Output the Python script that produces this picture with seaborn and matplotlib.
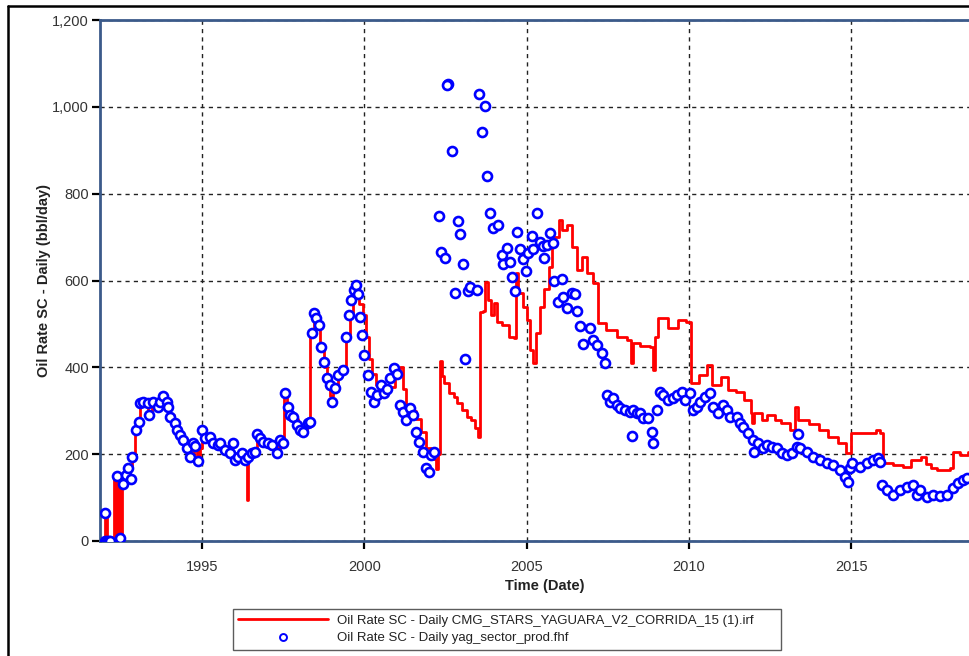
import matplotlib
matplotlib.use("Agg")
import matplotlib.pyplot as plt
from matplotlib.lines import Line2D
from matplotlib.ticker import FuncFormatter, FixedLocator
import seaborn as sns
import pandas as pd

# Simulated daily oil rate (CMG STARS run), step series: decimal year / bbl/day
sim_t = [1991.86, 1992.00, 1992.06, 1992.30, 1992.32, 1992.34, 1992.36, 1992.38, 1992.40,
         1992.42, 1992.44, 1992.46, 1992.48, 1992.50, 1992.52, 1992.55, 1992.65, 1992.75,
         1992.85, 1992.95, 1993.05, 1993.10, 1993.20, 1993.35, 1993.45, 1993.60, 1993.75,
         1993.90, 1994.00, 1994.15, 1994.25, 1994.35, 1994.45, 1994.55, 1994.65, 1994.75,
         1994.85, 1994.88, 1994.91, 1994.94, 1995.00, 1995.10, 1995.25, 1995.40, 1995.55,
         1995.70, 1995.85, 1996.00, 1996.15, 1996.30, 1996.38, 1996.42, 1996.55, 1996.70,
         1996.85, 1997.00, 1997.15, 1997.30, 1997.40, 1997.52, 1997.62, 1997.72, 1997.85,
         1997.95, 1998.10, 1998.25, 1998.33, 1998.45, 1998.55, 1998.65, 1998.75, 1998.85,
         1998.95, 1999.05, 1999.20, 1999.30, 1999.45, 1999.55, 1999.65, 1999.75, 1999.85,
         1999.95, 2000.05, 2000.15, 2000.25, 2000.35, 2000.50, 2000.65, 2000.80, 2000.95,
         2001.10, 2001.20, 2001.30, 2001.45, 2001.60, 2001.75, 2001.90, 2002.05, 2002.20,
         2002.28, 2002.32, 2002.38, 2002.45, 2002.60, 2002.75, 2002.85, 2003.00, 2003.15,
         2003.30, 2003.40, 2003.50, 2003.55, 2003.65, 2003.72, 2003.80, 2003.90, 2004.00,
         2004.10, 2004.25, 2004.45, 2004.62, 2004.68, 2004.75, 2004.90, 2005.00, 2005.10,
         2005.20, 2005.28, 2005.40, 2005.55, 2005.70, 2005.78, 2006.00, 2006.10, 2006.25,
         2006.40, 2006.55, 2006.70, 2006.85, 2007.05, 2007.20, 2007.45, 2007.80, 2008.10,
         2008.22, 2008.28, 2008.50, 2008.80, 2008.88, 2008.95, 2009.05, 2009.35, 2009.65,
         2009.90, 2010.05, 2010.30, 2010.55, 2010.70, 2011.00, 2011.20, 2011.45, 2011.70,
         2011.90, 2011.95, 2012.00, 2012.25, 2012.40, 2012.65, 2012.85, 2013.10, 2013.27,
         2013.35, 2013.70, 2014.00, 2014.30, 2014.60, 2014.85, 2015.00, 2015.30, 2015.75,
         2015.90, 2015.98, 2016.30, 2016.60, 2016.85, 2017.15, 2017.30, 2017.45, 2017.65,
         2018.05, 2018.15, 2018.35, 2018.60, 2019.50]
sim_v = [0, 60, 0, 140, 0, 140, 0, 140, 0,
         140, 0, 140, 0, 140, 0, 150, 160, 170,
         195, 250, 275, 315, 320, 300, 318, 312, 325,
         320, 290, 272, 258, 245, 232, 215, 200, 220,
         185, 215, 190, 215, 250, 238, 235, 225, 222,
         212, 205, 195, 197, 190, 95, 195, 205, 240,
         230, 225, 220, 210, 230, 340, 310, 292, 280,
         262, 255, 268, 480, 510, 495, 440, 400, 360,
         335, 345, 380, 390, 470, 525, 560, 590, 545,
         520, 470, 420, 385, 360, 340, 345, 355, 385,
         400, 350, 305, 300, 280, 250, 215, 190, 165,
         200, 415, 380, 364, 341, 332, 318, 302, 286,
         279, 260, 240, 527, 530, 597, 555, 520, 548,
         505, 497, 470, 468, 617, 571, 539, 510, 440,
         410, 480, 540, 580, 630, 700, 740, 717, 728,
         677, 624, 654, 617, 594, 502, 486, 470, 463,
         410, 456, 450, 447, 394, 470, 513, 491, 509,
         505, 364, 382, 405, 359, 378, 348, 343, 325,
         295, 272, 295, 279, 290, 279, 272, 256, 309,
         279, 270, 256, 240, 225, 203, 249, 249, 256,
         249, 180, 175, 171, 187, 194, 178, 168, 164,
         168, 205, 198, 205, 205]

# Historical field production (yag_sector_prod.fhf): decimal year / bbl/day
hist_t = [1992.00, 1992.01, 1992.06, 1992.12, 1992.18, 1992.38, 1992.47, 1992.57, 1992.66,
          1992.72, 1992.81, 1992.84, 1992.97, 1993.06, 1993.09, 1993.18, 1993.34, 1993.37,
          1993.49, 1993.64, 1993.71, 1993.80, 1993.92, 1993.95, 1994.01, 1994.17, 1994.23,
          1994.32, 1994.41, 1994.54, 1994.63, 1994.72, 1994.78, 1994.88, 1995.00, 1995.09,
          1995.25, 1995.34, 1995.49, 1995.55, 1995.71, 1995.86, 1995.96, 1996.02, 1996.11,
          1996.23, 1996.32, 1996.42, 1996.54, 1996.63, 1996.69, 1996.79, 1996.88, 1997.03,
          1997.16, 1997.31, 1997.40, 1997.50, 1997.56, 1997.65, 1997.71, 1997.80, 1997.93,
          1998.02, 1998.11, 1998.26, 1998.33, 1998.40, 1998.45, 1998.52, 1998.60, 1998.68,
          1998.76, 1998.85, 1998.93, 1999.00, 1999.10, 1999.20, 1999.35, 1999.45, 1999.52,
          1999.60, 1999.68, 1999.74, 1999.80, 1999.86, 1999.93, 2000.00, 2000.12, 2000.20,
          2000.30, 2000.40, 2000.50, 2000.60, 2000.70, 2000.80, 2000.90, 2001.00, 2001.10,
          2001.20, 2001.30, 2001.40, 2001.50, 2001.60, 2001.70, 2001.80, 2001.90, 2001.98,
          2002.05, 2002.15, 2002.30, 2002.36, 2002.49, 2002.58, 2002.55, 2002.70, 2002.80,
          2002.89, 2002.95, 2003.04, 2003.10, 2003.19, 2003.26, 2003.47, 2003.53, 2003.63,
          2003.72, 2003.78, 2003.87, 2003.97, 2004.12, 2004.24, 2004.27, 2004.40, 2004.49,
          2004.55, 2004.64, 2004.70, 2004.80, 2004.89, 2004.98, 2005.04, 2005.17, 2005.20,
          2005.32, 2005.41, 2005.51, 2005.54, 2005.63, 2005.72, 2005.81, 2005.85, 2005.97,
          2006.09, 2006.12, 2006.24, 2006.40, 2006.49, 2006.55, 2006.65, 2006.74, 2006.95,
          2007.05, 2007.17, 2007.32, 2007.40, 2007.48, 2007.57, 2007.66, 2007.78, 2007.87,
          2008.03, 2008.19, 2008.25, 2008.28, 2008.40, 2008.49, 2008.59, 2008.74, 2008.86,
          2008.89, 2009.02, 2009.11, 2009.20, 2009.36, 2009.51, 2009.63, 2009.79, 2009.88,
          2010.03, 2010.13, 2010.25, 2010.34, 2010.50, 2010.65, 2010.74, 2010.90, 2011.05,
          2011.17, 2011.27, 2011.48, 2011.57, 2011.67, 2011.82, 2011.97, 2012.00, 2012.13,
          2012.28, 2012.41, 2012.56, 2012.71, 2012.87, 2013.02, 2013.18, 2013.33, 2013.36,
          2013.42, 2013.64, 2013.82, 2014.04, 2014.25, 2014.44, 2014.66, 2014.81, 2014.90,
          2014.96, 2015.02, 2015.27, 2015.49, 2015.67, 2015.83, 2015.90, 2015.95, 2016.10,
          2016.29, 2016.50, 2016.72, 2016.90, 2017.03, 2017.12, 2017.33, 2017.52, 2017.74,
          2017.95, 2018.14, 2018.30, 2018.45, 2018.57]
hist_v = [0, 65, 0, 0, 0, 150, 7, 131, 152,
          168, 143, 194, 256, 274, 318, 321, 318, 290,
          321, 309, 320, 333, 321, 309, 286, 271, 256,
          244, 232, 214, 194, 226, 219, 184, 256, 237,
          240, 226, 221, 226, 210, 203, 226, 187, 194,
          203, 187, 194, 203, 205, 246, 237, 228, 226,
          221, 203, 232, 226, 341, 309, 290, 286, 267,
          256, 251, 271, 274, 479, 524, 514, 497, 447,
          412, 375, 359, 320, 352, 382, 394, 470, 520,
          555, 578, 590, 570, 516, 474, 428, 382, 343,
          320, 336, 359, 340, 350, 375, 398, 385, 313,
          297, 279, 306, 290, 251, 228, 205, 168, 159,
          198, 205, 749, 666, 652, 1053, 1050, 898, 571,
          737, 707, 638, 419, 576, 585, 578, 1030, 942,
          1002, 841, 756, 721, 728, 659, 638, 675, 643,
          608, 576, 712, 673, 650, 622, 663, 703, 673,
          756, 689, 680, 652, 682, 710, 687, 599, 551,
          604, 562, 537, 571, 569, 530, 495, 454, 491,
          463, 451, 433, 410, 336, 320, 329, 313, 306,
          302, 297, 242, 302, 295, 295, 283, 283, 251,
          226, 302, 343, 336, 325, 329, 336, 343, 325,
          341, 302, 309, 320, 332, 341, 309, 295, 313,
          302, 286, 286, 271, 263, 249, 233, 205, 226,
          214, 221, 217, 214, 203, 198, 203, 217, 246,
          214, 205, 194, 187, 180, 175, 164, 147, 136,
          168, 180, 171, 180, 187, 191, 182, 129, 117,
          106, 117, 124, 129, 106, 117, 101, 106, 103,
          106, 122, 134, 141, 145]

sim = pd.DataFrame({"year": sim_t, "rate": sim_v})
hist = pd.DataFrame({"year": hist_t, "rate": hist_v})

sns.set_theme(style="white")
plt.rcParams["font.family"] = ["Liberation Sans", "DejaVu Sans"]

W, H = 969, 656
fig = plt.figure(figsize=(W / 100, H / 100), dpi=100)
fig.patch.set_facecolor("white")

# plot area: left edge at 100 px, top 20 px, bottom 541 px; runs past the right edge
left, top, bottom = 100, 20, 541
right = 990
ax = fig.add_axes([left / W, (H - bottom) / H, (right - left) / W, (bottom - top) / H])

sns.lineplot(data=sim, x="year", y="rate", ax=ax, color="#ff0000", linewidth=2.0,
             drawstyle="steps-post", estimator=None, sort=False, legend=False, zorder=3)
sns.scatterplot(data=hist, x="year", y="rate", ax=ax, marker="o", s=42,
                facecolor="white", edgecolor="#0000ff", linewidth=1.9, legend=False, zorder=4)

x0 = 1995 + (left - 202) / 32.46
x1 = 1995 + (right - 202) / 32.46
ax.set_xlim(x0, x1)
ax.set_ylim(0, 1200)

ax.xaxis.set_major_locator(FixedLocator([1995, 2000, 2005, 2010, 2015]))
ax.yaxis.set_major_locator(FixedLocator([0, 200, 400, 600, 800, 1000, 1200]))
ax.yaxis.set_major_formatter(FuncFormatter(lambda v, p: f"{int(v):,}"))
ax.xaxis.set_major_formatter(FuncFormatter(lambda v, p: f"{int(round(v))}"))

ax.grid(True, which="major", color="#222222", linestyle=(0, (3, 3)), linewidth=1.0)
ax.set_axisbelow(True)

spine_color = "#3b5a8a"
for side in ("left", "bottom", "top"):
    ax.spines[side].set_visible(True)
    ax.spines[side].set_color(spine_color)
    ax.spines[side].set_linewidth(2.0)
ax.spines["right"].set_visible(False)

ax.tick_params(axis="both", which="major", direction="out", length=6, width=1.6,
               color="black", labelsize=10.5, labelcolor="#333333", pad=2)
ax.tick_params(axis="x", pad=8, top=False, bottom=True)
ax.tick_params(axis="y", left=True, right=False)

ax.set_xlabel("Time (Date)", fontsize=10.5, fontweight="bold", color="#222222", labelpad=3)
ax.set_ylabel("Oil Rate SC - Daily (bbl/day)", fontsize=10.5, fontweight="bold",
              color="#222222", labelpad=1)

# outer frame around the chart window
fig.add_artist(Line2D([8 / W, 8 / W], [0, (H - 6) / H], color="black", linewidth=1.8,
                      transform=fig.transFigure))
fig.add_artist(Line2D([8 / W, 1.0], [(H - 6) / H, (H - 6) / H], color="black",
                      linewidth=1.8, transform=fig.transFigure))

handles = [
    Line2D([], [], color="#ff0000", linewidth=2.0),
    Line2D([], [], color="#0000ff", marker="o", linestyle="none", markersize=5,
           markerfacecolor="white", markeredgewidth=1.4),
]
labels = [
    "Oil Rate SC - Daily CMG_STARS_YAGUARA_V2_CORRIDA_15 (1).irf",
    "Oil Rate SC - Daily yag_sector_prod.fhf",
]
leg = fig.legend(handles, labels, loc="center", mode="expand",
                 bbox_to_anchor=(233 / W, 4 / H, 548 / W, 45 / H),
                 fontsize=9.5, frameon=True, fancybox=False, edgecolor="#333333",
                 handlelength=6.8, handletextpad=0.7, labelspacing=0.4,
                 borderpad=0.4, borderaxespad=0)
leg.get_frame().set_linewidth(1.0)
for t in leg.get_texts():
    t.set_color("#222222")

fig.savefig("out.png", dpi=100, facecolor="white")
